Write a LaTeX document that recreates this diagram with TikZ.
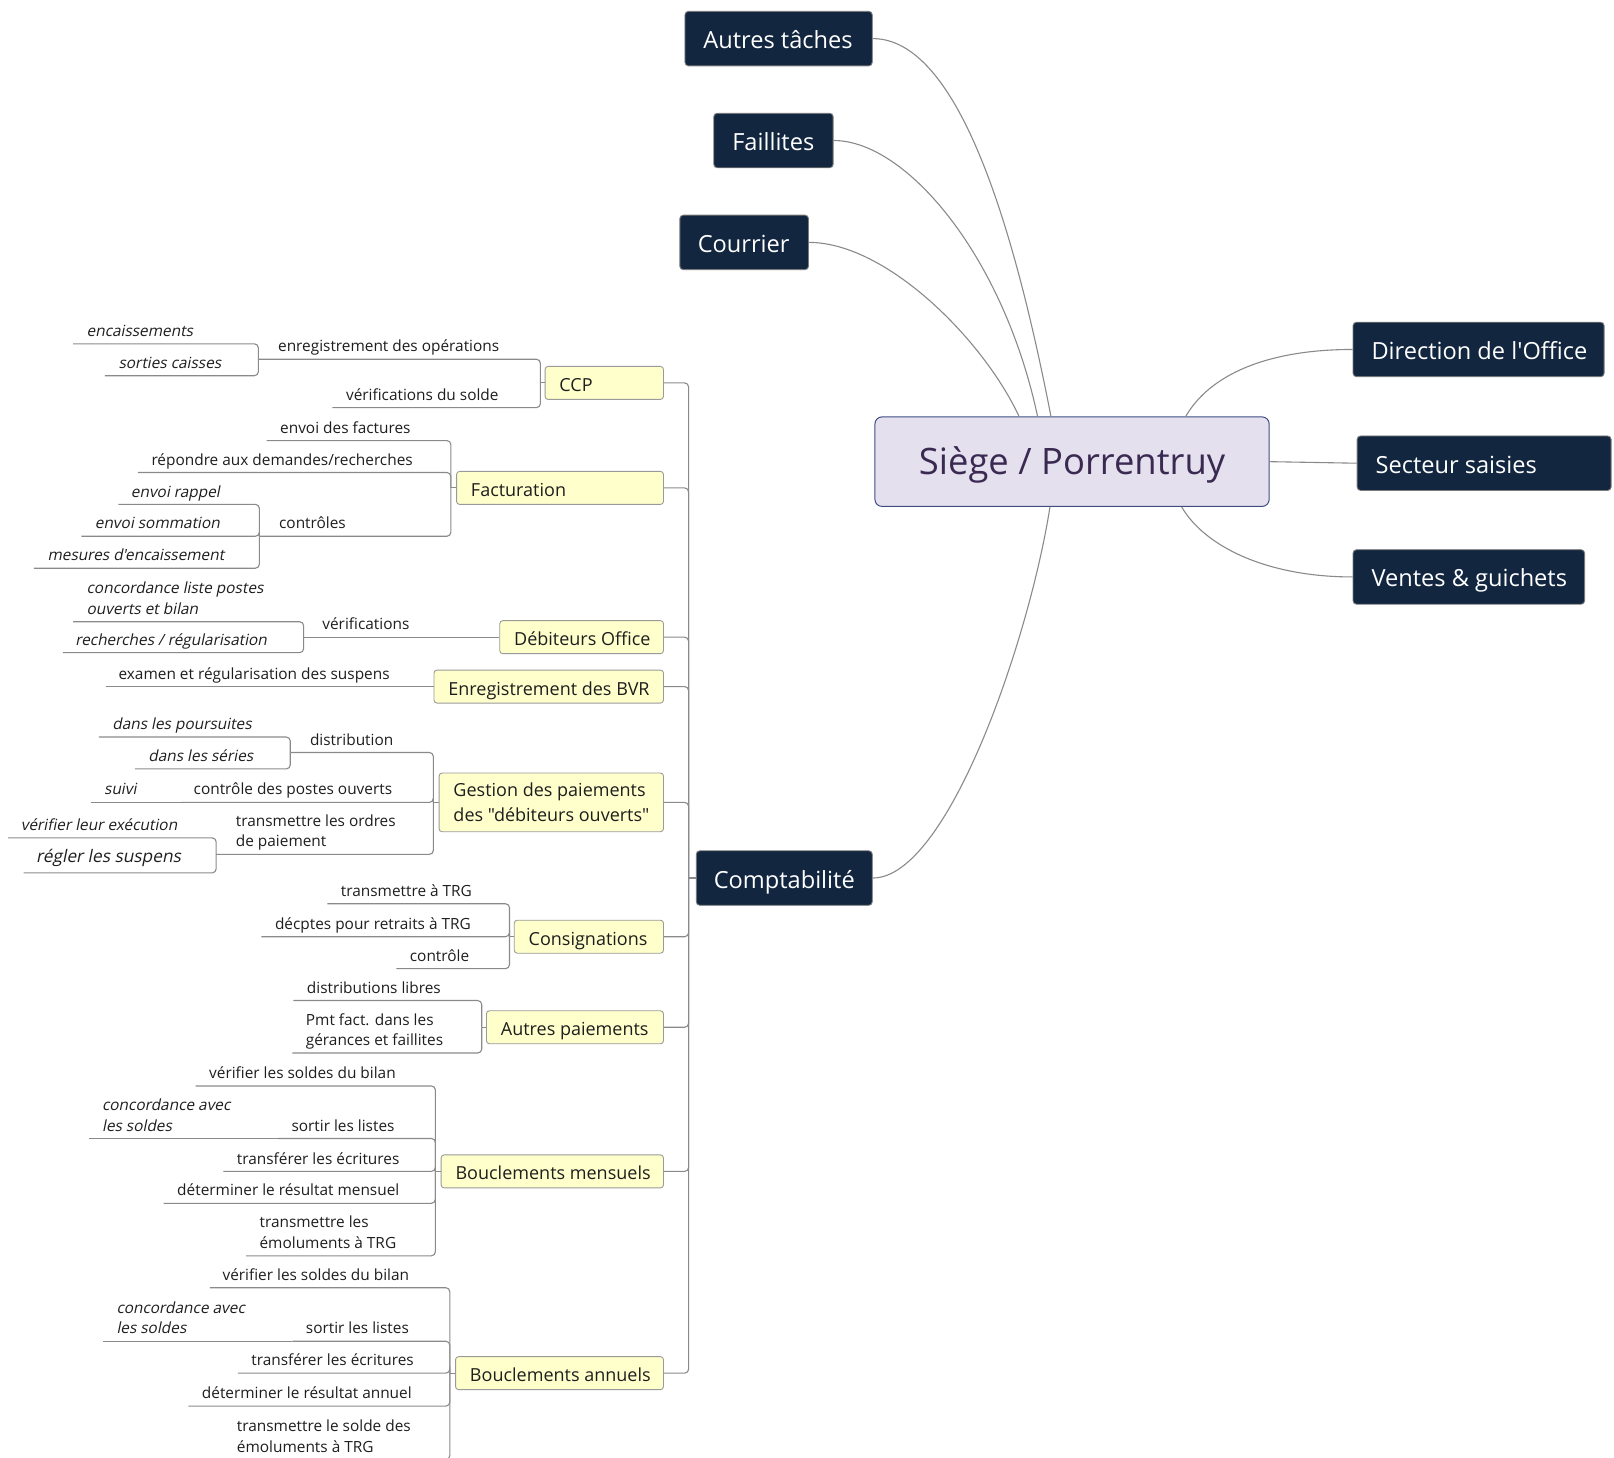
\documentclass[tikz,border=0pt]{standalone}
\usepackage{fontspec}
\newfontfamily\osf{Open Sans}
\newfontfamily\osi{Open Sans}[FakeSlant=0.2]
\usetikzlibrary{calc}
\definecolor{lncol}{HTML}{8A8A8A}
\definecolor{darkfill}{HTML}{12263F}
\definecolor{darkbd}{HTML}{7A7A7A}
\definecolor{yelfill}{HTML}{FFFFCC}
\definecolor{yelbd}{HTML}{9A9A9A}
\definecolor{cfill}{HTML}{E4E0EE}
\definecolor{cbd}{HTML}{3F4C82}
\definecolor{ctext}{HTML}{3A2A52}
\definecolor{txt}{HTML}{1E1E1E}
\newcommand\mkbx[3]{\makebox[#1][l]{\hspace{#2}#3}}
\tikzset{
  ln/.style={draw=lncol, line width=1.1pt, rounded corners=4pt},
  cn/.style={draw=lncol, line width=1.1pt},
  dark/.style={draw=darkbd, fill=darkfill, line width=0.9pt, rounded corners=3.5pt,
    inner sep=0pt, text=white, font=\osf\fontsize{23.6}{28}\selectfont,
    minimum height=54.5pt, text height=24pt, text depth=4pt, anchor=west},
  yel/.style={draw=yelbd, fill=yelfill, line width=0.9pt, rounded corners=3pt,
    inner sep=0pt, text=txt, font=\osf\fontsize{18}{24.7}\selectfont,
    minimum height=33pt, anchor=east},
  yl/.style={text height=19.5pt, text depth=2.5pt},
  central/.style={draw=cbd, fill=cfill, line width=1pt, rounded corners=7pt,
    inner sep=0pt, text=ctext, font=\osf\fontsize{36.4}{42}\selectfont,
    minimum width=394.2pt, minimum height=89.5pt, text height=36pt, text depth=9.4pt},
  sub/.style={anchor=south west, inner sep=0pt, yshift=1pt, text=txt,
    font=\osf\fontsize{15.4}{20.6}\selectfont, align=left, execute at end node=\strut},
  subi/.style={sub, font=\osi\fontsize{15.4}{20.6}\selectfont},
  subI/.style={sub, yshift=2.4pt, font=\osi\fontsize{17.3}{23}\selectfont},
}
\begin{document}
\begin{tikzpicture}[x=1.0293pt,y=-1.0293pt]
\useasboundingbox (0,0) rectangle (1568,1415.5);
\clip (0,0) rectangle (1568,1415.5);

% central and main topics
\node[central] (siege) at (1041.5,448.5) {Siège / Porrentruy};
\node[dark] (autres) at (665,37.5) {\mkbx{187.3pt}{18.5pt}{Autres tâches}};
\node[dark] (faill) at (693,136.5) {\mkbx{119.4pt}{18.5pt}{Faillites}};
\node[dark] (courr) at (660,235.5) {\mkbx{128.7pt}{18pt}{Courrier}};
\node[dark] (compta) at (676,853) {\mkbx{176pt}{17.5pt}{Comptabilité}};
\node[dark] (direc) at (1314,339.5) {\mkbx{251.1pt}{18.5pt}{Direction de l'Office}};
\node[dark] (sect) at (1318,450) {\mkbx{254pt}{18.5pt}{Secteur saisies}};
\node[dark] (vent) at (1314,560.5) {\mkbx{231.6pt}{18.5pt}{Ventes \& guichets}};

% curves from the central topic
\draw[cn] (autres.east) .. controls +(83,0) and +(-36,-185) .. ([xshift=-21.1pt]siege.north);
\draw[cn] (faill.east) .. controls +(71,0) and +(-33,-155) .. ([xshift=-34.5pt]siege.north);
\draw[cn] (courr.east) .. controls +(75,0) and +(-35,-75) .. ([xshift=-53pt]siege.north);
\draw[cn] ([xshift=113.7pt]siege.north) .. controls +(23,-40) and +(-84,0) .. (direc.west);
\draw[cn] (siege.east) -- (sect.west);
\draw[cn] ([xshift=109.6pt]siege.south) .. controls +(22,38) and +(-84,0) .. (vent.west);
\draw[cn] ([xshift=-22.1pt]siege.south) .. controls +(-20,128) and +(73,0) .. (compta.east);

% yellow topics
\node[yel,yl] (ccp) at (645,372) {\mkbx{118.4pt}{14.4pt}{CCP}};
\node[yel,yl] (fact) at (645,474) {\mkbx{206.9pt}{14.4pt}{Facturation}};
\node[yel,yl] (deb) at (645,619) {\mkbx{163.7pt}{14.4pt}{Débiteurs Office}};
\node[yel,yl] (bvr) at (645,667) {\mkbx{229.5pt}{14.4pt}{Enregistrement des BVR}};
\node[yel, minimum height=58.7pt, text height=41pt, text depth=3pt] (gest) at (645,779.5) {\mkbx{224.4pt}{14.4pt}{\begin{tabular}[b]{@{}l@{}}Gestion des paiements\\des "débiteurs ouverts"\end{tabular}}};
\node[yel,yl] (cons) at (645,910) {\mkbx{149.2pt}{14.4pt}{Consignations}};
\node[yel,yl] (autp) at (645,998) {\mkbx{177pt}{14.4pt}{Autres paiements}};
\node[yel,yl] (mens) at (645,1138) {\mkbx{222.3pt}{14.4pt}{Bouclements mensuels}};
\node[yel,yl] (ann) at (645,1334) {\mkbx{207.9pt}{14.4pt}{Bouclements annuels}};

% trunk
\coordinate (trunk) at (669,853);
\foreach \n in {ccp,fact,deb,bvr,gest,cons,autp,mens,ann}
  \draw[ln] (\n.east) -| (trunk);
\draw[ln] (compta.west) -- (trunk);

% junctions
\coordinate (ccpj) at (525,372);
\coordinate (factj) at (438,474);
\coordinate (gestj) at (421,779.5);
\coordinate (consj) at (495,910);
\coordinate (autj) at (468,998);
\coordinate (mensj) at (423,1138);
\coordinate (annj) at (437,1334);
\foreach \n/\j in {ccp/ccpj,fact/factj,gest/gestj,cons/consj,autp/autj,mens/mensj,ann/annj}
  \draw[ln] (\n.west) -- (\j);

% CCP
\coordinate (c1) at (251,349);  \node[sub] (c1t) at (270,349) {enregistrement des opérations};
\coordinate (c2) at (323,396);  \node[sub] (c2t) at (336,396) {vérifications du solde};
\coordinate (c11) at (71,334);  \node[subi] (c11t) at (84,334) {encaissements};
\coordinate (c12) at (102,365); \node[subi] (c12t) at (115,365) {sorties caisses};
\draw[ln] (c1) -| (ccpj);
\draw[ln] (c2) -| (ccpj);
\draw[ln] (c11) -| (c1);
\draw[ln] (c12) -| (c1);

% Facturation
\coordinate (f1) at (259,428); \node[sub] (f1t) at (272,428) {envoi des factures};
\coordinate (f2) at (134,459); \node[sub] (f2t) at (147,459) {répondre aux demandes/recherches};
\coordinate (f3) at (252,521); \node[sub] (f3t) at (271,521) {contrôles};
\coordinate (f31) at (115,490); \node[subi] (f31t) at (127,490) {envoi rappel};
\coordinate (f32) at (79,521);  \node[subi] (f32t) at (92,521) {envoi sommation};
\coordinate (f33) at (33,552);  \node[subi] (f33t) at (46,552) {mesures d'encaissement};
\draw[ln] (f1) -| (factj);
\draw[ln] (f2) -| (factj);
\draw[ln] (f3) -| (factj);
\draw[ln] (f31) -| (f3);
\draw[ln] (f32) -| (f3);
\draw[ln] (f33) -| (f3);

% Debiteurs Office
\coordinate (d1) at (295,619); \node[sub] (d1t) at (313,619) {vérifications};
\coordinate (d11) at (71,604); \node[subi] (d11t) at (84,604) {concordance liste postes\\ouverts et bilan};
\coordinate (d12) at (61,634); \node[subi] (d12t) at (73,634) {recherches / régularisation};
\draw[ln] (d1) -- (deb.west);
\draw[ln] (d11) -| (d1);
\draw[ln] (d12) -| (d1);

% BVR
\coordinate (b1) at (103,667); \node[sub] (b1t) at (115,667) {examen et régularisation des suspens};
\draw[ln] (b1) -- (bvr.west);

% Gestion des paiements
\coordinate (g1) at (282,731); \node[sub] (g1t) at (301,731) {distribution};
\coordinate (g11) at (96,716); \node[subi] (g11t) at (109,716) {dans les poursuites};
\coordinate (g12) at (131,747); \node[subi] (g12t) at (144,747) {dans les séries};
\coordinate (g2) at (176,779.5); \node[sub] (g2t) at (188,779.5) {contrôle des postes ouverts};
\coordinate (g21) at (88,779.5); \node[subi] (g21t) at (101,779.5) {suivi};
\coordinate (g3) at (210,830); \node[sub] (g3t) at (229,830) {transmettre les ordres\\de paiement};
\coordinate (g31) at (8,814); \node[subi] (g31t) at (20,814) {vérifier leur exécution};
\coordinate (g32) at (23,848); \node[subI] (g32t) at (35,848) {régler les suspens};
\draw[ln] (g1) -| (gestj);
\draw[ln] (g2) -| (gestj);
\draw[ln] (g3) -| (gestj);
\draw[ln] (g11) -| (g1);
\draw[ln] (g12) -| (g1);
\draw[ln] (g21) -- (g2);
\draw[ln] (g31) -| (g3);
\draw[ln] (g32) -| (g3);

% Consignations
\coordinate (s1) at (318,878); \node[sub] (s1t) at (331,878) {transmettre à TRG};
\coordinate (s2) at (254,910); \node[sub] (s2t) at (267,910) {décptes pour retraits à TRG};
\coordinate (s3) at (385,941); \node[sub] (s3t) at (398,941) {contrôle};
\draw[ln] (s1) -| (consj);
\draw[ln] (s2) -| (consj);
\draw[ln] (s3) -| (consj);

% Autres paiements
\coordinate (a1) at (285,972); \node[sub] (a1t) at (298,972) {distributions libres};
\coordinate (a2) at (284,1023); \node[sub] (a2t) at (297,1023) {Pmt fact. dans les\\gérances et faillites};
\draw[ln] (a1) -| (autj);
\draw[ln] (a2) -| (autj);

% Bouclements mensuels
\coordinate (m1) at (190,1055); \node[sub] (m1t) at (203,1055) {vérifier les soldes du bilan};
\coordinate (m2) at (270,1106); \node[sub] (m2t) at (283,1106) {sortir les listes};
\coordinate (m21) at (86,1106); \node[subi] (m21t) at (99,1106) {concordance avec\\les soldes};
\coordinate (m3) at (217,1138); \node[sub] (m3t) at (230,1138) {transférer les écritures};
\coordinate (m4) at (159,1169); \node[sub] (m4t) at (172,1169) {déterminer le résultat mensuel};
\coordinate (m5) at (239,1220); \node[sub] (m5t) at (252,1220) {transmettre les\\émoluments à TRG};
\foreach \c in {m1,m2,m3,m4,m5} \draw[ln] (\c) -| (mensj);
\draw[ln] (m21) -- (m2);

% Bouclements annuels
\coordinate (n1) at (204,1251); \node[sub] (n1t) at (216,1251) {vérifier les soldes du bilan};
\coordinate (n2) at (284,1303); \node[sub] (n2t) at (297,1303) {sortir les listes};
\coordinate (n21) at (100,1303); \node[subi] (n21t) at (113,1303) {concordance avec\\les soldes};
\coordinate (n3) at (231,1334); \node[sub] (n3t) at (244,1334) {transférer les écritures};
\coordinate (n4) at (183,1366); \node[sub] (n4t) at (196,1366) {déterminer le résultat annuel};
\coordinate (n5) at (217,1418); \node[sub] (n5t) at (230,1418) {transmettre le solde des\\émoluments à TRG};
\foreach \c in {n1,n2,n3,n4,n5} \draw[ln] (\c) -| (annj);
\draw[ln] (n21) -- (n2);
\end{tikzpicture}
\end{document}
